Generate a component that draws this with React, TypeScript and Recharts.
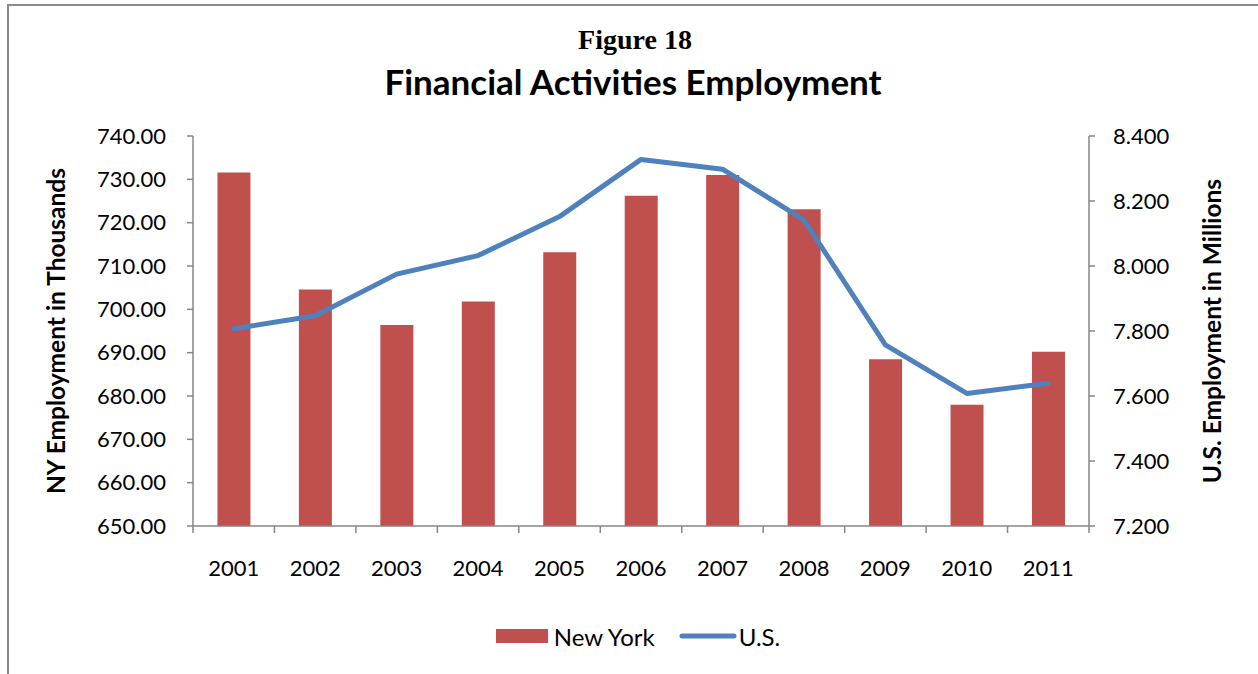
import React from "react";
import {
  Bar, ComposedChart, Legend, Line, XAxis, YAxis
} from "recharts";

const years = ["2001", "2002", "2003", "2004", "2005", "2006", "2007", "2008", "2009", "2010", "2011"];
const newYork = [731.6, 704.6, 696.4, 701.8, 713.2, 726.2, 731.0, 723.1, 688.5, 678.0, 690.2];
const us = [7.807, 7.847, 7.975, 8.032, 8.152, 8.328, 8.298, 8.142, 7.757, 7.608, 7.639];
const nyTicks = [650, 660, 670, 680, 690, 700, 710, 720, 730, 740];
const usTicks = [7.2, 7.4, 7.6, 7.8, 8.0, 8.2, 8.4];

const data = years.map((year, i) => ({ year, ny: newYork[i], us: us[i] }));

const W = 1258;
const H = 674;
const LEFT_W = 193;
const RIGHT_W = 169;
const BAND = (W - LEFT_W - RIGHT_W) / years.length;
const AXIS = "#868686";
const FONT = "Lato, 'Open Sans', sans-serif";

const XTick = (props: any) => {
  const { x, y, payload, index } = props;
  const last = index === years.length - 1;
  return (
    <g>
      <line x1={x - BAND / 2} x2={x - BAND / 2} y1={y} y2={y + 7} stroke={AXIS} strokeWidth={1.5} />
      {last && <line x1={x + BAND / 2} x2={x + BAND / 2} y1={y} y2={y + 7} stroke={AXIS} strokeWidth={1.5} />}
      <text x={x} y={y + 50} textAnchor="middle" fontSize={22} fontFamily={FONT} fill="#000">
        {payload.value}
      </text>
    </g>
  );
};

const LegendContent = () => (
  <div style={{ display: "flex", justifyContent: "center", alignItems: "center", fontFamily: FONT, fontSize: 24, color: "#000", height: 32, marginLeft: 18 }}>
    <span style={{ display: "inline-block", width: 52, height: 14, background: "#C0504D", marginRight: 6 }} />
    <span style={{ marginRight: 24 }}>New York</span>
    <svg width={58} height={14} style={{ marginRight: 2 }}>
      <line x1={3} x2={55} y1={7} y2={7} stroke="#4F81BD" strokeWidth={5} strokeLinecap="round" />
    </svg>
    <span>U.S.</span>
  </div>
);

export default function App() {
  return (
    <div style={{ position: "fixed", left: 0, top: 0, width: W, height: H, background: "#fff" }}>
      <div style={{ position: "absolute", left: 7, top: 4, width: W, height: H, borderTop: "2px solid #8a8a8a", borderLeft: "2px solid #8a8a8a" }} />
      <div style={{ position: "absolute", left: 6, top: 25, width: W, textAlign: "center", fontFamily: "'Liberation Serif', serif", fontWeight: "bold", fontSize: 28, lineHeight: "30px" }}>
        Figure 18
      </div>
      <div style={{ position: "absolute", left: 4, top: 60, width: W, textAlign: "center", fontFamily: FONT, fontWeight: "bold", fontSize: 35, lineHeight: "42px" }}>
        Financial Activities Employment
      </div>
      <div style={{ position: "absolute", left: 0, top: 0 }}>
        <ComposedChart
          width={W}
          height={H}
          data={data}
          barCategoryGap="30%"
          margin={{ top: 136, right: 0, left: 0, bottom: 76 }}
        >
          <XAxis
            dataKey="year"
            height={40}
            stroke={AXIS}
            strokeWidth={1.5}
            tickLine={false}
            tickSize={0}
            tickMargin={0}
            tick={<XTick />}
            interval={0}
          />
          <YAxis
            yAxisId="left"
            width={LEFT_W}
            domain={[650, 740]}
            ticks={nyTicks}
            interval={0}
            tickFormatter={(v: number) => v.toFixed(2)}
            stroke={AXIS}
            strokeWidth={1.5}
            tickSize={6}
            tickMargin={21}
            tick={{ fill: "#000", fontSize: 22, fontFamily: FONT }}
            label={{ value: "NY Employment in Thousands", angle: -90, position: "insideLeft", offset: 0, dx: 56, style: { textAnchor: "middle", fontFamily: FONT, fontWeight: "bold", fontSize: 24.5, fill: "#000" } }}
          />
          <YAxis
            yAxisId="right"
            orientation="right"
            width={RIGHT_W}
            domain={[7.2, 8.4]}
            ticks={usTicks}
            interval={0}
            tickFormatter={(v: number) => v.toFixed(3)}
            stroke={AXIS}
            strokeWidth={1.5}
            tickSize={6}
            tickMargin={18}
            tick={{ fill: "#000", fontSize: 22, fontFamily: FONT, textAnchor: "start" }}
            label={{ value: "U.S. Employment in Millions", angle: -90, position: "insideRight", offset: 0, dx: -46, style: { textAnchor: "middle", fontFamily: FONT, fontWeight: "bold", fontSize: 24.5, fill: "#000" } }}
          />
          <Bar yAxisId="left" dataKey="ny" name="New York" fill="#C0504D" isAnimationActive={false} />
          <Line yAxisId="right" dataKey="us" name="U.S." type="linear" stroke="#4F81BD" strokeWidth={5} strokeLinecap="round" strokeLinejoin="round" dot={false} activeDot={false} isAnimationActive={false} />
          <Legend content={<LegendContent />} wrapperStyle={{ top: 620, left: 0, width: W, height: 32 }} />
        </ComposedChart>
      </div>
    </div>
  );
}
